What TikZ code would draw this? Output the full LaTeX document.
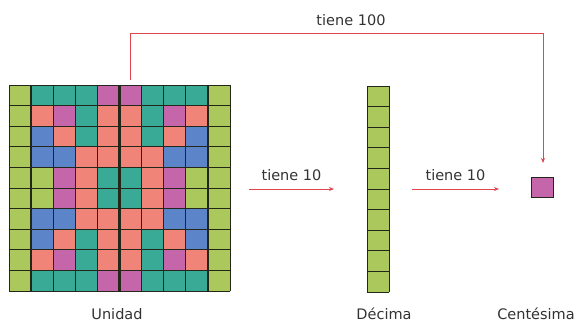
\documentclass[tikz,border=0pt]{standalone}
\usepackage{fontspec}
\setmainfont{DejaVu Sans}
\usetikzlibrary{arrows.meta}
\definecolor{cG}{RGB}{170,200,92}
\definecolor{cT}{RGB}{56,170,150}
\definecolor{cM}{RGB}{198,102,170}
\definecolor{cS}{RGB}{240,132,120}
\definecolor{cB}{RGB}{92,132,200}
\definecolor{gridline}{RGB}{35,38,25}
\definecolor{redline}{RGB}{222,70,80}
\begin{document}
\begin{tikzpicture}[x=1bp,y=-1bp,
  cellbox/.style={draw=gridline,line width=1bp},
  thickline/.style={draw=gridline,line width=2.2bp},
  conn/.style={draw=redline,line width=0.9bp,-{Stealth[length=5bp,width=4bp]}},
  lbl/.style={font=\fontsize{14.5bp}{17bp}\selectfont,text=black!80,inner sep=0pt}]
\useasboundingbox (0,0) rectangle (579,324);
% Unidad grid
\def\gx{9}\def\gy{85}\def\cw{22.1}\def\ch{20.6}
\foreach \r/\row in {0/{G,T,T,T,M,M,T,T,T,G},1/{G,S,M,T,S,S,T,M,S,G},2/{G,B,S,T,S,S,T,S,B,G},3/{G,B,B,S,S,S,S,B,B,G},4/{G,G,M,S,T,T,S,M,G,G},5/{G,G,M,S,T,T,S,M,G,G},6/{G,B,B,S,S,S,S,B,B,G},7/{G,B,S,T,S,S,T,S,B,G},8/{G,S,M,T,S,S,T,M,S,G},9/{G,T,T,T,M,M,T,T,T,G}}{
  \foreach \c/\col [count=\i from 0] in \row {
    \fill[c\c] ({\gx+\i*\cw},{\gy+\r*\ch}) rectangle ++(\cw,\ch);
  }
}
\node[draw=none,minimum width=221bp,minimum height=206bp,inner sep=0pt,anchor=north west] (unidad) at (9,85) {};
\foreach \i in {0,...,10} {
  \draw[cellbox] ({\gx+\i*\cw},\gy) -- ++(0,206);
  \draw[cellbox] (\gx,{\gy+\i*\ch}) -- ++(221,0);
}
\foreach \i in {1,5,9} \draw[thickline] ({\gx+\i*\cw},\gy) -- ++(0,206);
% Decima
\node[draw=none,minimum width=22bp,minimum height=206bp,inner sep=0pt,anchor=north west] (decima) at (367,86) {};
\fill[cG] (367,86) rectangle (389,292);
\foreach \i in {0,...,10} \draw[cellbox] (367,{86+\i*20.6}) -- ++(22,0);
\draw[cellbox] (367,86) -- (367,292) (389,86) -- (389,292);
% Centesima
\node[draw=gridline,line width=1.2bp,fill=cM,minimum width=22bp,minimum height=20bp,inner sep=0pt,anchor=north west] (centesima) at (531,177) {};
% connectors
\coordinate (a1s) at (249,189); \coordinate (a1e) at (334,189);
\coordinate (a2s) at (412,189); \coordinate (a2e) at (499,189);
\draw[conn] (a1s) -- node[lbl,above=8bp] (l1) {tiene 10} (a1e);
\draw[conn] (a2s) -- node[lbl,above=8bp] (l2) {tiene 10} (a2e);
\coordinate (ts) at (130,80); \coordinate (tc1) at (130,33); \coordinate (tc2) at (543,33); \coordinate (te) at (543,163);
\draw[conn] (ts) -- (tc1) -- (tc2) -- (te);
\node[lbl] (l3) at (351,20) {tiene 100};
% labels
\node[lbl] (ul) at (117,314) {Unidad};
\node[lbl] (dl) at (384,314) {Décima};
\node[lbl] (cl) at (536,314) {Centésima};
\end{tikzpicture}
\end{document}
